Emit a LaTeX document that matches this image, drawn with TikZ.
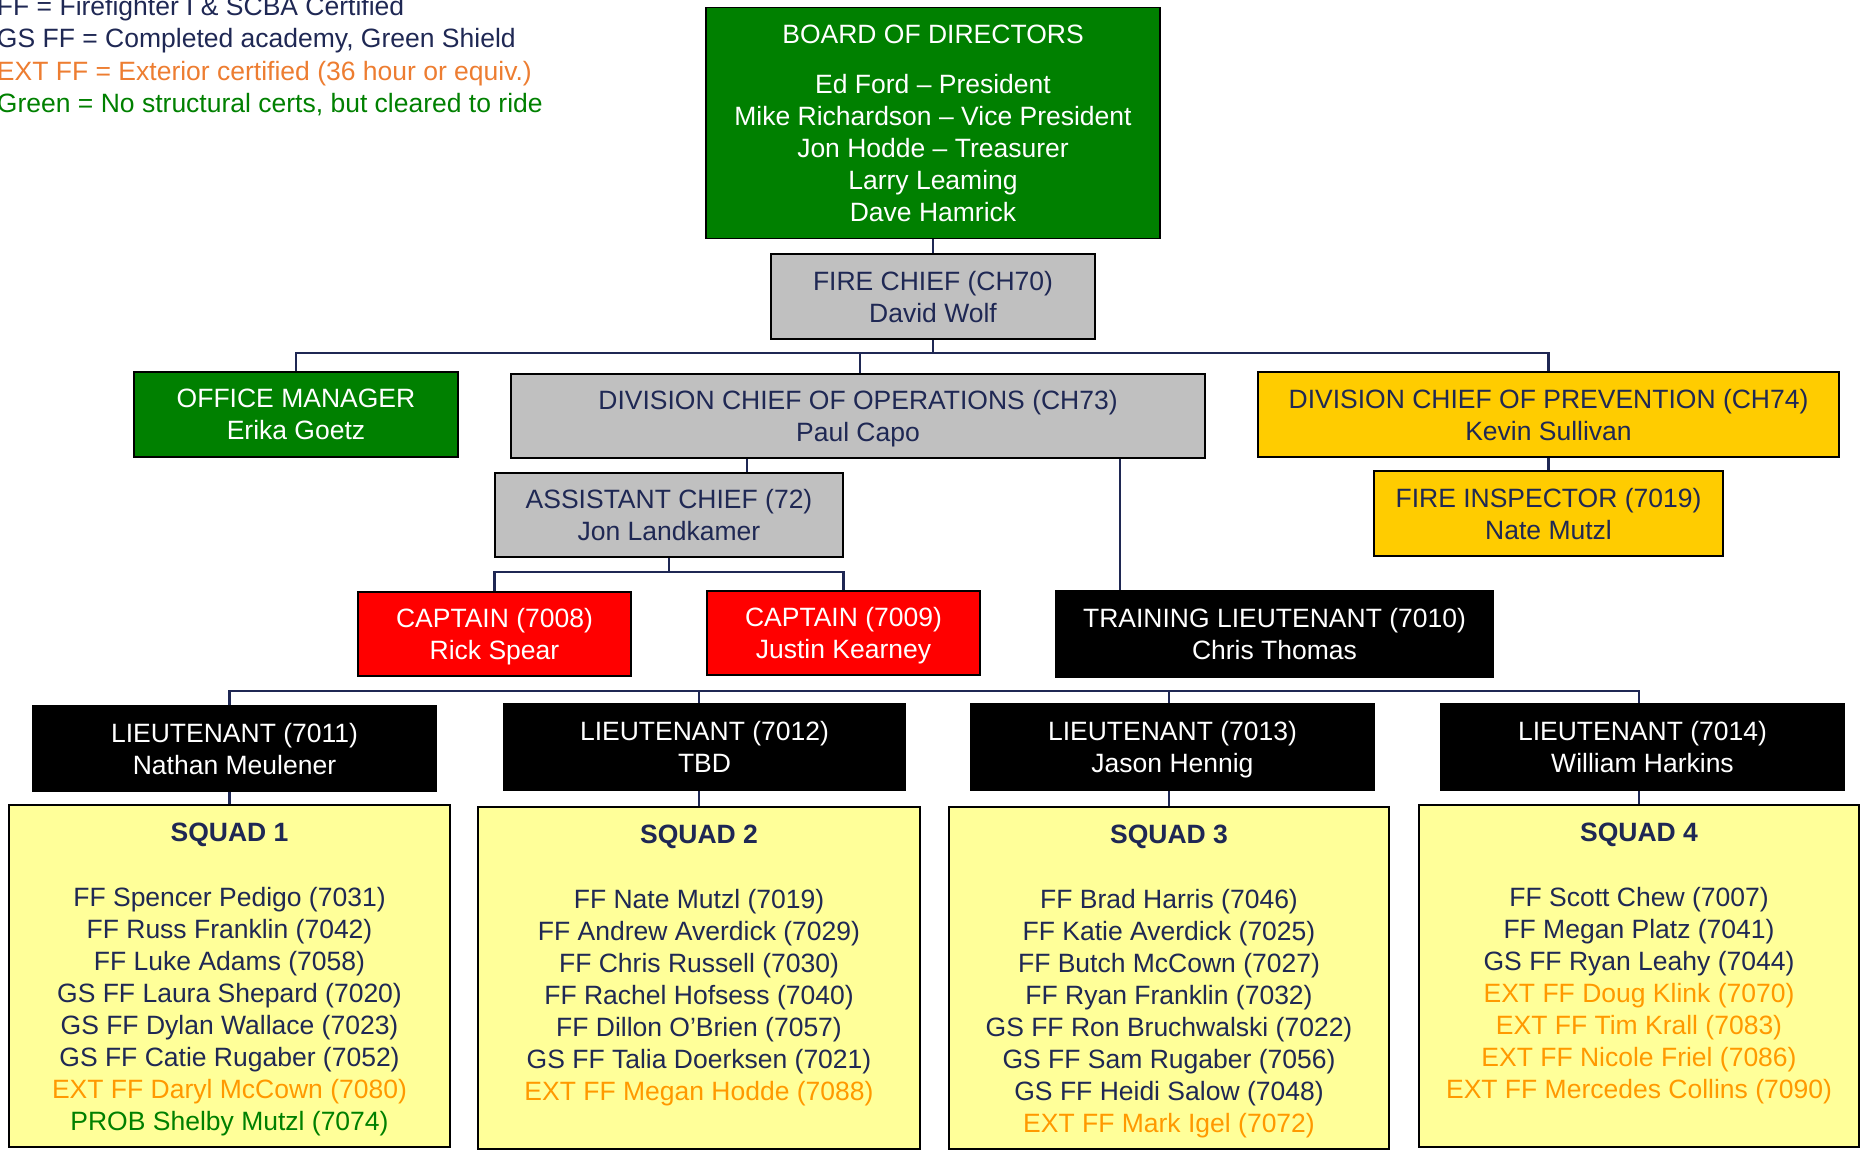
\documentclass[tikz,border=0pt]{standalone}
\usepackage{fontspec}
\setmainfont{Liberation Sans}
\usetikzlibrary{backgrounds}
\definecolor{navy}{RGB}{31,40,84}
\definecolor{bgreen}{RGB}{0,128,0}
\definecolor{grayfill}{RGB}{192,192,192}
\definecolor{gold}{RGB}{255,204,0}
\definecolor{sqy}{RGB}{255,255,153}
\definecolor{extor}{RGB}{255,153,0}
\definecolor{legor}{RGB}{237,125,49}
\newcommand{\nodepth}[1]{\raisebox{0pt}[\height][0pt]{#1}}
\begin{document}
\begin{tikzpicture}[x=1pt,y=-1pt,
  every node/.style={font={\fontsize{26.5}{32}\selectfont}, inner sep=0pt, outer sep=0pt},
  box/.style={draw=black, line width=1.5pt, align=center, text=navy},
  greenbox/.style={box, fill=bgreen, text=white},
  graybox/.style={box, fill=grayfill},
  goldbox/.style={box, fill=gold},
  redbox/.style={box, fill=red, text=white},
  blackbox/.style={box, fill=black, text=white},
  squadbox/.style={box, fill=sqy},
  squadtext/.style={anchor=north, align=center, text=navy},
  legend/.style={anchor=base west},
  conn/.style={draw=navy, line width=2.2pt}]
\useasboundingbox (0,0) rectangle (1865,1152);

% legend
\node[legend, text=navy] (leg1) at (-3,15) {FF = Firefighter I \& SCBA Certified};
\node[legend, text=navy] (leg2) at (-3,47) {GS FF = Completed academy, Green Shield};
\node[legend, text=legor] (leg3) at (-3,80) {EXT FF = Exterior certified (36 hour or equiv.)};
\node[legend, text=bgreen] (leg4) at (-3,112) {Green = No structural certs, but cleared to ride};

% top levels
\node[greenbox, minimum width=454pt, minimum height=231pt] (board) at (933,123)
  {BOARD OF DIRECTORS\\[18pt]Ed Ford – President\\Mike Richardson – Vice President\\Jon Hodde – Treasurer\\Larry Leaming\\\nodepth{Dave Hamrick}};
\node[graybox, minimum width=324pt, minimum height=85pt] (chief) at (933,296.5)
  {FIRE CHIEF (CH70)\\\nodepth{David Wolf}};
\node[greenbox, minimum width=324pt, minimum height=85pt] (office) at (296,414.5)
  {OFFICE MANAGER\\\nodepth{Erika Goetz}};
\node[graybox, minimum width=694pt, minimum height=84pt] (ops) at (858,416)
  {DIVISION CHIEF OF OPERATIONS (CH73)\\\nodepth{Paul Capo}};
\node[goldbox, minimum width=581pt, minimum height=85pt] (prev) at (1548.5,414.5)
  {DIVISION CHIEF OF PREVENTION (CH74)\\\nodepth{Kevin Sullivan}};
\node[goldbox, minimum width=349pt, minimum height=85pt] (insp) at (1548.5,513.5)
  {FIRE INSPECTOR (7019)\\\nodepth{Nate Mutzl}};
\node[graybox, minimum width=348pt, minimum height=84pt] (asst) at (669,515)
  {ASSISTANT CHIEF (72)\\\nodepth{Jon Landkamer}};
\node[redbox, minimum width=273pt, minimum height=84pt] (cap1) at (494.5,634)
  {CAPTAIN (7008)\\\nodepth{Rick Spear}};
\node[redbox, minimum width=273pt, minimum height=84pt] (cap2) at (843.5,633)
  {CAPTAIN (7009)\\\nodepth{Justin Kearney}};
\node[blackbox, minimum width=437pt, minimum height=86pt] (train) at (1274.5,634)
  {TRAINING LIEUTENANT (7010)\\\nodepth{Chris Thomas}};

% lieutenants
\node[blackbox, minimum width=403pt, minimum height=85pt] (lt1) at (234.5,748.5)
  {LIEUTENANT (7011)\\\nodepth{Nathan Meulener}};
\node[blackbox, minimum width=401pt, minimum height=86pt] (lt2) at (704.5,747)
  {LIEUTENANT (7012)\\\nodepth{TBD}};
\node[blackbox, minimum width=403pt, minimum height=86pt] (lt3) at (1172.5,747)
  {LIEUTENANT (7013)\\\nodepth{Jason Hennig}};
\node[blackbox, minimum width=403pt, minimum height=86pt] (lt4) at (1642.5,747)
  {LIEUTENANT (7014)\\\nodepth{William Harkins}};

% squads
\node[squadbox, minimum width=441pt, minimum height=342pt] (s1) at (229.5,976) {};
\node[squadbox, minimum width=442pt, minimum height=342pt] (s2) at (699,978) {};
\node[squadbox, minimum width=440pt, minimum height=342pt] (s3) at (1169,978) {};
\node[squadbox, minimum width=440pt, minimum height=342pt] (s4) at (1639,976) {};

\node[squadtext] (t1) at ([yshift=-17.5pt]s1.north)
  {\textbf{SQUAD 1}\\[33pt]FF Spencer Pedigo (7031)\\FF Russ Franklin (7042)\\FF Luke Adams (7058)\\GS FF Laura Shepard (7020)\\GS FF Dylan Wallace (7023)\\GS FF Catie Rugaber (7052)\\\textcolor{extor}{EXT FF Daryl McCown (7080)}\\\textcolor{bgreen}{PROB Shelby Mutzl (7074)}};
\node[squadtext] (t2) at ([yshift=-17.5pt]s2.north)
  {\textbf{SQUAD 2}\\[33pt]FF Nate Mutzl (7019)\\FF Andrew Averdick (7029)\\FF Chris Russell (7030)\\FF Rachel Hofsess (7040)\\FF Dillon O’Brien (7057)\\GS FF Talia Doerksen (7021)\\\textcolor{extor}{EXT FF Megan Hodde (7088)}};
\node[squadtext] (t3) at ([yshift=-17.5pt]s3.north)
  {\textbf{SQUAD 3}\\[33pt]FF Brad Harris (7046)\\FF Katie Averdick (7025)\\FF Butch McCown (7027)\\FF Ryan Franklin (7032)\\GS FF Ron Bruchwalski (7022)\\GS FF Sam Rugaber (7056)\\GS FF Heidi Salow (7048)\\\textcolor{extor}{EXT FF Mark Igel (7072)}};
\node[squadtext] (t4) at ([yshift=-17.5pt]s4.north)
  {\textbf{SQUAD 4}\\[33pt]FF Scott Chew (7007)\\FF Megan Platz (7041)\\GS FF Ryan Leahy (7044)\\\textcolor{extor}{EXT FF Doug Klink (7070)}\\\textcolor{extor}{EXT FF Tim Krall (7083)}\\\textcolor{extor}{EXT FF Nicole Friel (7086)}\\\textcolor{extor}{EXT FF Mercedes Collins (7090)}};

% connectors
\coordinate (tbar) at (0,353);
\coordinate (abar) at (0,572);
\coordinate (lbar) at (0,691);
\begin{scope}[on background layer]
\draw[conn] (board.south) -- (chief.north);
\draw[conn] (chief.south) -- (chief.south |- tbar);
\draw[conn] (office.north) -- (office.north |- tbar) -- (prev.north |- tbar) -- (prev.north);
\draw[conn] ([xshift=2pt]ops.north) -- ([xshift=2pt]ops.north |- tbar);
\draw[conn] (prev.south) -- (insp.north);
\draw[conn] ([xshift=78pt]asst.north) -- ([xshift=78pt]asst.north |- ops.south);
\draw[conn] ([xshift=-154.5pt]train.north) -- ([xshift=-154.5pt]train.north |- ops.south);
\draw[conn] (asst.south) -- (asst.south |- abar);
\draw[conn] (cap1.north) -- (cap1.north |- abar) -- (cap2.north |- abar) -- (cap2.north);
\draw[conn] (s1.north) -- (s1.north |- lbar) -- (s4.north |- lbar) -- (s4.north);
\draw[conn] (s2.north) -- (s2.north |- lbar);
\draw[conn] (s3.north) -- (s3.north |- lbar);
\end{scope}
\end{tikzpicture}
\end{document}
